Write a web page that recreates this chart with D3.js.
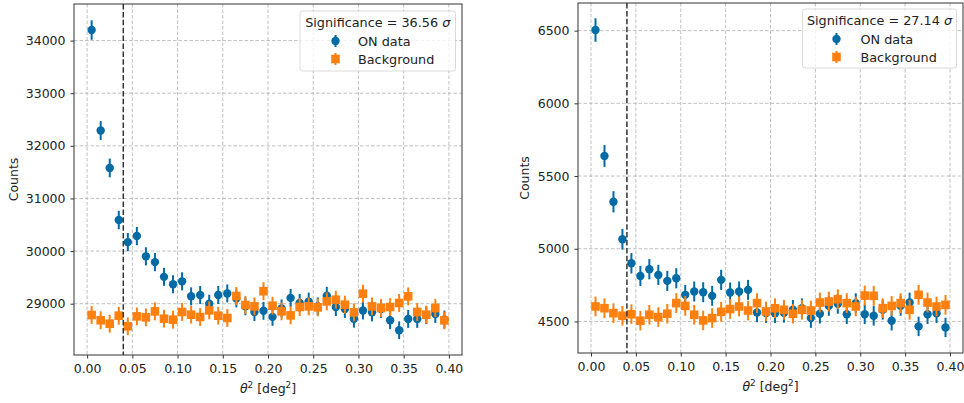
<!DOCTYPE html>
<html><head><meta charset="utf-8">
<script src="https://cdn.jsdelivr.net/npm/d3@7"></script>
<style>body{margin:0;background:#fff}svg{display:block}text{font-family:"DejaVu Sans",sans-serif;fill:#222}</style>
</head><body>
<script>
const thetaBins = [0.005,0.015,0.025,0.035,0.045,0.055,0.065,0.075,0.085,0.095,0.105,0.115,0.125,0.135,0.145,0.155,0.165,0.175,0.185,0.195,0.205,0.215,0.225,0.235,0.245,0.255,0.265,0.275,0.285,0.295,0.305,0.315,0.325,0.335,0.345,0.355,0.365,0.375,0.385,0.395];
const xTicks = [0.00,0.05,0.10,0.15,0.20,0.25,0.30,0.35,0.40];
const cutTheta2 = 0.04;

const onLeft = [34200,32290,31580,30590,30170,30285,29900,29790,29510,29370,29425,29140,29165,29000,29165,29195,29100,28950,28840,28865,28750,28910,29110,29015,29040,28950,29150,28935,28900,28715,28870,28835,28900,28685,28495,28710,28710,28780,28805,28700];
const bkgLeft = [28785,28685,28620,28772,28570,28759,28741,28854,28715,28696,28842,28791,28747,28873,28772,28728,29146,28975,28949,29237,28962,28854,28778,28937,28949,28930,29044,29076,28981,28835,29190,28949,28918,28937,29013,29139,28842,28791,28918,28683];
const yTicksLeft = [29000,30000,31000,32000,33000,34000];
const sigLeft = "36.56";

const onRight = [6504,5638,5323,5065,4900,4813,4859,4820,4779,4797,4683,4706,4701,4676,4786,4699,4706,4717,4562,4558,4557,4560,4580,4591,4523,4553,4607,4621,4550,4626,4550,4539,4580,4505,4607,4630,4466,4550,4557,4459];
const bkgRight = [4603,4591,4557,4539,4550,4505,4546,4530,4553,4626,4607,4546,4507,4523,4566,4585,4603,4575,4626,4569,4591,4580,4553,4580,4575,4630,4637,4653,4626,4603,4678,4676,4591,4607,4626,4580,4683,4630,4603,4614];
const yTicksRight = [4500,5000,5500,6000,6500];
const sigRight = "27.14";

const BLUE = "#006BA4", ORANGE = "#FF800E";
const FS = 12.5;
const svg = d3.select("body").append("svg").attr("width",964).attr("height",403);

function panel(cfg){
  const {x0,x1,y0,y1,ydom,yticks,on,bkg,sig,ylabelX,leg} = cfg;
  const x = d3.scaleLinear().domain([-0.0145,0.4145]).range([x0,x1]);
  const y = d3.scaleLinear().domain(ydom).range([y1,y0]);
  const g = svg.append("g");
  // grid
  g.append("g").selectAll("line").data(xTicks).join("line")
    .attr("x1",d=>x(d)).attr("x2",d=>x(d)).attr("y1",y0).attr("y2",y1)
    .attr("stroke","#b0b0b0").attr("stroke-width",0.8).attr("stroke-dasharray","3.5,2");
  g.append("g").selectAll("line").data(yticks).join("line")
    .attr("y1",d=>y(d)).attr("y2",d=>y(d)).attr("x1",x0).attr("x2",x1)
    .attr("stroke","#b0b0b0").attr("stroke-width",0.8).attr("stroke-dasharray","3.5,2");
  // axes
  const ax = g.append("g").attr("transform",`translate(0,${y1})`)
    .call(d3.axisBottom(x).tickValues(xTicks).tickFormat(d3.format(".2f")).tickSize(3.5).tickPadding(5.5));
  const ay = g.append("g").attr("transform",`translate(${x0},0)`)
    .call(d3.axisLeft(y).tickValues(yticks).tickFormat(d3.format("d")).tickSize(3.5).tickPadding(5));
  [ax,ay].forEach(a=>{a.select(".domain").remove();a.selectAll("text").attr("font-size",FS).attr("font-family","DejaVu Sans").attr("fill","#222");a.selectAll("line").attr("stroke","#333");});
  // data: ON
  const ong = g.append("g");
  ong.selectAll("line").data(thetaBins).join("line")
    .attr("x1",(d)=>x(d)).attr("x2",d=>x(d))
    .attr("y1",(d,i)=>y(on[i]+Math.sqrt(on[i]))).attr("y2",(d,i)=>y(on[i]-Math.sqrt(on[i])))
    .attr("stroke",BLUE).attr("stroke-width",2);
  ong.selectAll("circle").data(thetaBins).join("circle")
    .attr("cx",d=>x(d)).attr("cy",(d,i)=>y(on[i])).attr("r",4.2).attr("fill",BLUE);
  const bg = g.append("g");
  bg.selectAll("line").data(thetaBins).join("line")
    .attr("x1",(d)=>x(d)).attr("x2",d=>x(d))
    .attr("y1",(d,i)=>y(bkg[i]+Math.sqrt(bkg[i]))).attr("y2",(d,i)=>y(bkg[i]-Math.sqrt(bkg[i])))
    .attr("stroke",ORANGE).attr("stroke-width",2);
  bg.selectAll("rect").data(thetaBins).join("rect")
    .attr("x",d=>x(d)-4.3).attr("y",(d,i)=>y(bkg[i])-4.3).attr("width",8.6).attr("height",8.6).attr("fill",ORANGE);
  // cut line
  g.append("line").attr("x1",x(cutTheta2)).attr("x2",x(cutTheta2)).attr("y1",y0).attr("y2",y1)
    .attr("stroke","#333").attr("stroke-width",1.5).attr("stroke-dasharray","5.5,2.4");
  // spines
  g.append("rect").attr("x",x0).attr("y",y0).attr("width",x1-x0).attr("height",y1-y0)
    .attr("fill","none").attr("stroke","#333").attr("stroke-width",1);
  // labels
  g.append("text").attr("x",(x(0)+x(0.4))/2).attr("y",y1+38).attr("text-anchor","middle").attr("font-size",FS)
    .html('<tspan font-style="italic">θ</tspan><tspan dy="-5" font-size="8.8">2</tspan><tspan dy="5"> [deg</tspan><tspan dy="-5" font-size="8.8">2</tspan><tspan dy="5">]</tspan>');
  g.append("text").attr("transform",`translate(${ylabelX},${(y0+y1)/2}) rotate(-90)`).attr("text-anchor","middle")
    .attr("font-size",FS).text("Counts");
  // legend
  const lg = g.append("g");
  lg.append("rect").attr("x",leg.x).attr("y",leg.y).attr("width",leg.w).attr("height",leg.h).attr("rx",2.5)
    .attr("fill","rgba(255,255,255,0.8)").attr("stroke","#d0d0d0").attr("stroke-width",0.8);
  lg.append("text").attr("x",leg.x+leg.w/2).attr("y",leg.y+15.5).attr("text-anchor","middle").attr("font-size",FS+0.3)
    .html(`Significance = ${sig} <tspan font-style="italic">σ</tspan>`);
  const mx = leg.mx;
  const r1 = leg.y+30, r2 = leg.y+48;
  lg.append("line").attr("x1",mx).attr("x2",mx).attr("y1",r1-6).attr("y2",r1+6).attr("stroke",BLUE).attr("stroke-width",2);
  lg.append("circle").attr("cx",mx).attr("cy",r1).attr("r",4.2).attr("fill",BLUE);
  lg.append("line").attr("x1",mx).attr("x2",mx).attr("y1",r2-6).attr("y2",r2+6).attr("stroke",ORANGE).attr("stroke-width",2);
  lg.append("rect").attr("x",mx-4.3).attr("y",r2-4.3).attr("width",8.6).attr("height",8.6).attr("fill",ORANGE);
  lg.append("text").attr("x",leg.tx).attr("y",r1+4.5).attr("font-size",FS+0.3).text("ON data");
  lg.append("text").attr("x",leg.tx).attr("y",r2+4.5).attr("font-size",FS+0.3).text("Background");
}

panel({x0:74,x1:462,y0:4,y1:355,ydom:[28025,34695],yticks:yTicksLeft,on:onLeft,bkg:bkgLeft,sig:sigLeft,ylabelX:18,
  leg:{x:300,y:11,w:155.5,h:60,mx:335.5,tx:358}});
panel({x0:578,x1:963,y0:3,y1:353,ydom:[4283,6690],yticks:yTicksRight,on:onRight,bkg:bkgRight,sig:sigRight,ylabelX:529,
  leg:{x:802.5,y:9,w:154,h:59,mx:836.5,tx:860.5}});
</script>
</body></html>
